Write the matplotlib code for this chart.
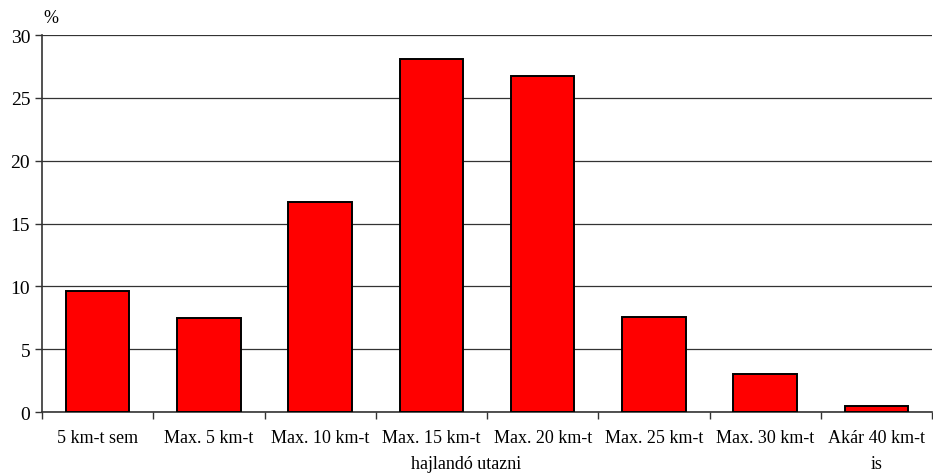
import matplotlib.pyplot as plt
import numpy as np

# Utazási hajlandóság (%)
kategoriak = ['5 km-t sem', 'Max. 5 km-t', 'Max. 10 km-t', 'Max. 15 km-t',
              'Max. 20 km-t', 'Max. 25 km-t', 'Max. 30 km-t', 'Akár 40 km-t\nis']
ertekek = [9.6, 7.5, 16.7, 28.1, 26.7, 7.6, 3.0, 0.5]

plt.rcParams['font.family'] = ['Liberation Serif', 'DejaVu Serif']
plt.rcParams['font.size'] = 13

fig = plt.figure(figsize=(9.33, 4.77), dpi=100)
ax = fig.add_axes([0.045, 0.134, 0.954, 0.7905])

x = np.arange(len(kategoriak))
ax.bar(x, ertekek, width=0.57, color='#ff0000', edgecolor='black', linewidth=1.4, zorder=3)

ax.set_xlim(-0.5, len(kategoriak) - 0.5)
ax.set_ylim(0, 30)
ax.set_yticks(np.arange(0, 31, 5))
ax.yaxis.grid(True, color='#333333', linewidth=0.9, zorder=0)

# osztásjelek a kategóriák között
ax.set_xticks(np.arange(-0.5, len(kategoriak), 1))
ax.set_xticklabels([])
ax.tick_params(axis='x', which='major', length=5, width=1, color='#333333')
ax.set_xticks(x, minor=True)
ax.set_xticklabels(kategoriak, minor=True, fontsize=13, linespacing=1.75)
ax.tick_params(axis='x', which='minor', length=0, pad=12)
ax.tick_params(axis='y', length=5, width=1, color='#333333', labelsize=14)

for s in ['top', 'right']:
    ax.spines[s].set_visible(False)
ax.spines['left'].set_color('#333333')
ax.spines['bottom'].set_color('#333333')
ax.spines['left'].set_linewidth(1.2)
ax.spines['bottom'].set_linewidth(1.2)

fig.text(0.5, 1 - 465 / 477, 'hajlandó utazni', fontsize=13, ha='center', va='center')
fig.text(0.046, 0.962, '%', fontsize=13, ha='left', va='center')

plt.savefig('out.png')
